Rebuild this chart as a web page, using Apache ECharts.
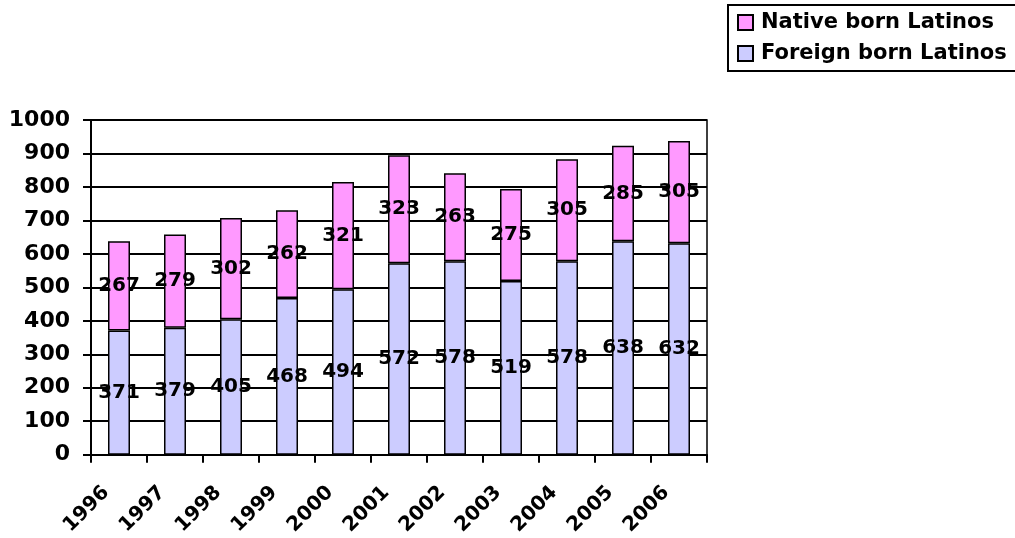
<!DOCTYPE html>
<html>
<head>
<meta charset="utf-8">
<script src="https://cdn.jsdelivr.net/npm/echarts@6/dist/echarts.min.js"></script>
<style>
html, body { margin: 0; padding: 0; background: #fff; }
#chart { width: 1015px; height: 538px; }
</style>
</head>
<body>
<div id="chart"></div>
<script>
// years on the x axis
var years = ['1996', '1997', '1998', '1999', '2000', '2001', '2002', '2003', '2004', '2005', '2006'];
// foreign born latinos (bottom part)
var foreignBorn = [371, 379, 405, 468, 494, 572, 578, 519, 578, 638, 632];
// native born latinos (top part)
var nativeBorn = [267, 279, 302, 262, 321, 323, 263, 275, 305, 285, 305];

var FONT = 'DejaVu Sans';

var myChart = echarts.init(document.getElementById('chart'));

var labelStyle = {
	show: true,
	position: 'inside',
	color: '#000',
	fontFamily: FONT,
	fontWeight: 'bold',
	fontSize: 20
};

var option = {
	animation: false,
	backgroundColor: '#fff',
	legend: {
		orient: 'vertical',
		left: 728,
		top: 5,
		padding: [7, 12, 7, 9],
		itemGap: 10,
		itemWidth: 15,
		itemHeight: 15,
		borderColor: '#000',
		borderWidth: 2,
		data: [
			{ name: 'Native born Latinos', icon: 'rect' },
			{ name: 'Foreign born Latinos', icon: 'rect' }
		],
		textStyle: {
			color: '#000',
			fontFamily: FONT,
			fontWeight: 'bold',
			fontSize: 21,
			padding: [0, 0, 0, 3]
		}
	},
	grid: {
		show: true,
		left: 91,
		right: 308,
		top: 120,
		bottom: 83,
		borderColor: '#000',
		borderWidth: 1.5,
		backgroundColor: 'transparent'
	},
	xAxis: {
		type: 'category',
		data: years,
		axisLine: { lineStyle: { color: '#000', width: 2 } },
		axisTick: { show: true, length: 8, lineStyle: { color: '#000', width: 2 } },
		axisLabel: {
			interval: 0,
			rotate: 45,
			margin: 22,
			padding: [0, 18, 0, 0],
			color: '#000',
			fontFamily: FONT,
			fontWeight: 'bold',
			fontSize: 20
		}
	},
	yAxis: {
		type: 'value',
		min: 0,
		max: 1000,
		interval: 100,
		axisLine: { show: true, lineStyle: { color: '#000', width: 2 } },
		axisTick: { show: true, length: 8, lineStyle: { color: '#000', width: 2 } },
		splitLine: { lineStyle: { color: '#000', width: 2 } },
		axisLabel: {
			margin: 21,
			color: '#000',
			fontFamily: FONT,
			fontWeight: 'bold',
			fontSize: 22,
			formatter: function (v) { return String(v); }
		}
	},
	series: [
		{
			name: 'Foreign born Latinos',
			type: 'bar',
			stack: 'total',
			barWidth: 22,
			data: foreignBorn,
			label: labelStyle,
			itemStyle: { color: '#CCCCFF', borderColor: '#000', borderWidth: 1.5 }
		},
		{
			name: 'Native born Latinos',
			type: 'bar',
			stack: 'total',
			barWidth: 22,
			data: nativeBorn,
			label: labelStyle,
			itemStyle: { color: '#FF99FF', borderColor: '#000', borderWidth: 1.5 }
		}
	]
};

myChart.setOption(option);
</script>
</body>
</html>
